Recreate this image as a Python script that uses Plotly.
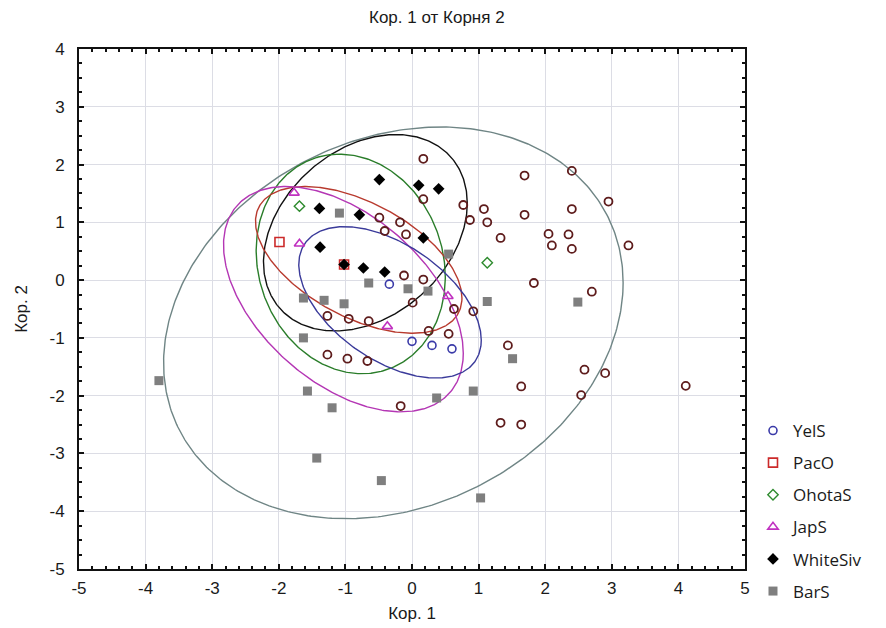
import numpy as np
import plotly.graph_objects as go

# ---- data ----
yels_x = [-0.34, 0.00, 0.30, 0.60]
yels_y = [-0.07, -1.06, -1.13, -1.19]

paco_x = [-1.99, -1.02]
paco_y = [0.66, 0.27]

ohota_x = [-1.69, 1.13]
ohota_y = [1.28, 0.30]

japs_x = [-1.77, -1.69, 0.54, -0.37]
japs_y = [1.51, 0.63, -0.28, -0.80]

white_x = [-0.49, 0.10, 0.40, -1.39, -0.79, 0.17, -1.38, -1.02, -0.73, -0.41]
white_y = [1.74, 1.64, 1.58, 1.24, 1.13, 0.73, 0.57, 0.27, 0.21, 0.14]

bars_x = [-1.09, 0.55, -0.65, -0.06, 0.24, -1.63, -1.32, -1.02, 1.13, 2.49,
          -1.63, -1.57, -1.20, 0.37, 0.92, 1.51, -3.80, -1.43, 1.03, -0.46]
bars_y = [1.16, 0.45, -0.05, -0.15, -0.19, -0.31, -0.35, -0.41, -0.37, -0.38,
          -1.00, -1.92, -2.21, -2.04, -1.92, -1.36, -1.74, -3.08, -3.77, -3.47]

other_x = [0.17, 0.17, 0.77, 1.08, 0.87, 1.13, 1.33, -0.49, -0.18, -0.41,
           -0.09, -0.12, 0.17, 0.01, 0.63, 0.92, -1.27, -0.95, -0.65, 0.25,
           0.55, -1.27, -0.97, -0.67, -0.17, 1.44, 1.64, 1.33, 1.64, 1.69,
           2.40, 2.95, 1.69, 2.40, 2.05, 2.35, 2.10, 2.40, 3.25, 1.83,
           2.70, 2.59, 2.90, 2.54, 4.11]
other_y = [2.10, 1.40, 1.30, 1.23, 1.04, 1.00, 0.73, 1.08, 1.00, 0.85,
           0.79, 0.08, 0.01, -0.39, -0.50, -0.54, -0.62, -0.67, -0.71, -0.88,
           -0.93, -1.29, -1.36, -1.40, -2.18, -1.13, -1.84, -2.47, -2.50, 1.81,
           1.89, 1.36, 1.13, 1.23, 0.80, 0.79, 0.60, 0.54, 0.60, -0.05,
           -0.20, -1.55, -1.61, -1.99, -1.83]

# ellipse parameters: centre x, centre y, half-width, half-height, correlation
ell_names = ["BarS", "WhiteSiv", "OhotaS", "PacO", "JapS", "YelS"]
ell_cx = [-0.28, -0.70, -0.92, -0.80, -1.03, -0.33]
ell_cy = [-0.74, 0.82, 0.28, 0.35, -0.33, -0.385]
ell_sx = [3.45, 1.53, 1.42, 1.55, 1.80, 1.37]
ell_sy = [3.39, 1.70, 1.90, 1.27, 1.95, 1.31]
ell_rho = [0.205, 0.30, -0.12, -0.52, -0.48, -0.50]
ell_colors = ["#6f8585", "#111111", "#2a7d2a", "#b83a2e", "#b436b4", "#3a3a9a"]

x_ticks = list(range(-5, 6))
y_ticks = list(range(-5, 5))

fig = go.Figure()

t = np.linspace(0, 2 * np.pi, 400)
for name, cx, cy, sx, sy, r, c in zip(ell_names, ell_cx, ell_cy, ell_sx, ell_sy, ell_rho, ell_colors):
    ex = cx + sx * np.cos(t)
    ey = cy + sy * (r * np.cos(t) + np.sqrt(1 - r * r) * np.sin(t))
    fig.add_trace(go.Scatter(x=ex, y=ey, mode="lines", line=dict(color=c, width=1.4),
                             showlegend=False, hoverinfo="skip"))

fig.add_trace(go.Scatter(x=other_x, y=other_y, mode="markers", showlegend=False,
                         marker=dict(symbol="circle-open", size=8, color="#5e1c1c",
                                     line=dict(width=1.8))))
fig.add_trace(go.Scatter(x=bars_x, y=bars_y, mode="markers", name="BarS",
                         marker=dict(symbol="square", size=9, color="#7f7f7f")))
fig.add_trace(go.Scatter(x=yels_x, y=yels_y, mode="markers", name="YelS",
                         marker=dict(symbol="circle-open", size=8, color="#3a3aa8",
                                     line=dict(width=1.6))))
fig.add_trace(go.Scatter(x=paco_x, y=paco_y, mode="markers", name="PacO",
                         marker=dict(symbol="square-open", size=9, color="#cc2a2a",
                                     line=dict(width=1.6))))
fig.add_trace(go.Scatter(x=ohota_x, y=ohota_y, mode="markers", name="OhotaS",
                         marker=dict(symbol="diamond-open", size=8, color="#2e8b2e",
                                     line=dict(width=1.4))))
fig.add_trace(go.Scatter(x=japs_x, y=japs_y, mode="markers", name="JapS",
                         marker=dict(symbol="triangle-up-open", size=9, color="#c030c0",
                                     line=dict(width=1.6))))
fig.add_trace(go.Scatter(x=white_x, y=white_y, mode="markers", name="WhiteSiv",
                         marker=dict(symbol="diamond", size=9, color="#000000")))

# legend order like the reference
order = ["YelS", "PacO", "OhotaS", "JapS", "WhiteSiv", "BarS"]
for tr in fig.data:
    if tr.name in order:
        tr.legendrank = order.index(tr.name) + 1
        tr.legendgroup = tr.name

narrow = "Liberation Sans Narrow, Liberation Sans, Arial"
tick_font = dict(family=narrow, size=17, color="#1a1a1a")
title_font = dict(family=narrow, size=17, color="#1a1a1a")

fig.update_layout(
    width=886, height=628,
    margin=dict(l=69, r=149, t=41, b=67),
    paper_bgcolor="white", plot_bgcolor="white",
    font=tick_font,
    annotations=[dict(text="Кор. 1 от Корня 2", x=0.537, y=1.0, xref="paper", yref="paper",
                      yanchor="bottom", yshift=20, showarrow=False, font=title_font)],
    legend=dict(x=1.012, y=0.30, xanchor="left", yanchor="top",
                font=dict(family="Open Sans, Noto Sans", size=17, color="#1a1a1a"),
                traceorder="grouped", tracegroupgap=7,
                bgcolor="rgba(0,0,0,0)", itemsizing="trace"),
    xaxis=dict(range=[-5, 5], tickvals=x_ticks, ticktext=[str(v) for v in x_ticks],
               showgrid=True, gridcolor="#dcdde5", gridwidth=1.2, zeroline=False,
               showline=True, linecolor="#111111", linewidth=2, mirror="allticks",
               ticks="inside", ticklen=5, tickcolor="#111111", tickwidth=1.5,
               ticklabelstandoff=3, tickfont=tick_font,
               minor=dict(dtick=0.2, ticks="inside", ticklen=3, tickcolor="#111111", showgrid=False),
               title=dict(text="Кор. 1", standoff=10, font=title_font), fixedrange=True),
    yaxis=dict(range=[-5, 4], tickvals=y_ticks, ticktext=[str(v) for v in y_ticks],
               showgrid=True, gridcolor="#dcdde5", gridwidth=1.2, zeroline=False,
               showline=True, linecolor="#111111", linewidth=2, mirror="allticks",
               ticks="inside", ticklen=5, tickcolor="#111111", tickwidth=1.5,
               ticklabelstandoff=9, tickfont=tick_font,
               minor=dict(dtick=0.25, ticks="inside", ticklen=3, tickcolor="#111111", showgrid=False),
               title=dict(text="Кор. 2", standoff=18, font=title_font), fixedrange=True),
)

fig.write_html("out.html")
